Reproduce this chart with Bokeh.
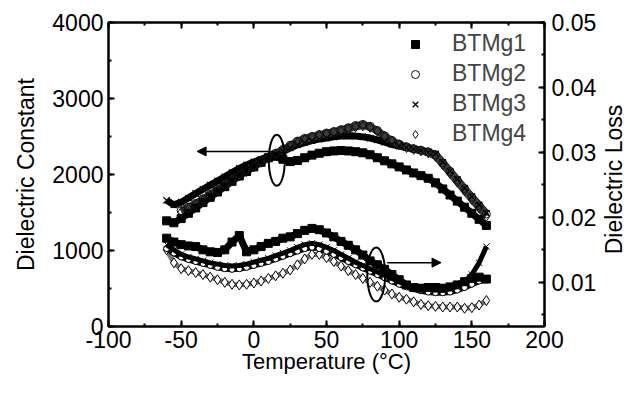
from bokeh.plotting import figure
from bokeh.layouts import row
from bokeh.models import (LinearAxis, Range1d, SingleIntervalTicker, NumeralTickFormatter,
                          Legend, LegendItem, Arrow, NormalHead, Label)
from bokeh.embed import file_html
from bokeh.resources import INLINE
import math

FONT = "Liberation Sans"

# ---------------- data ----------------
temp_a = [-60, -55, -50, -45, -40, -35, -30, -25, -20, -15, -10, -5, 0,
          5, 10, 15, 20, 25, 30, 35, 40, 45, 50, 55, 60, 65, 70, 75, 80,
          85, 90, 95, 100, 105, 110, 115, 120, 125, 130, 135, 140, 145, 150, 155, 160]
temp_b = temp_a[2:]

eps_btmg1 = [1390, 1365, 1420, 1490, 1560, 1630, 1700, 1770, 1840, 1910, 1980, 2040, 2100,
             2160, 2220, 2240, 2200, 2170, 2185, 2220, 2255, 2280, 2300, 2310, 2315, 2310,
             2300, 2285, 2260, 2220, 2180, 2140, 2100, 2060, 2020, 1985, 1950, 1890, 1810,
             1730, 1650, 1570, 1490, 1410, 1330]
eps_btmg3 = [1660, 1600, 1635, 1690, 1750, 1805, 1860, 1915, 1970, 2025, 2080, 2125, 2165,
             2200, 2235, 2265, 2300, 2350, 2390, 2420, 2445, 2465, 2480, 2495, 2505, 2510,
             2505, 2495, 2480, 2455, 2425, 2395, 2375, 2355, 2335, 2315, 2290, 2270, 2160,
             2045, 1935, 1820, 1710, 1600, 1490]
eps_btmg2 = [1525, 1570, 1620, 1680, 1740, 1805, 1870, 1935, 2000, 2060, 2120,
             2175, 2230, 2280, 2330, 2385, 2440, 2475, 2500, 2525, 2545, 2565, 2590, 2615,
             2645, 2660, 2635, 2580, 2510, 2450, 2400, 2365, 2340, 2320, 2300, 2260, 2150,
             2040, 1925, 1815, 1700, 1590, 1480]
eps_btmg4 = [1505, 1550, 1600, 1660, 1720, 1785, 1850, 1915, 1980, 2040, 2100,
             2160, 2215, 2265, 2315, 2370, 2420, 2460, 2490, 2515, 2535, 2555, 2575, 2600,
             2625, 2640, 2620, 2570, 2500, 2440, 2390, 2355, 2330, 2310, 2285, 2240, 2130,
             2015, 1900, 1785, 1670, 1560, 1450]

loss_btmg1 = [0.0168, 0.0162, 0.0158, 0.0156, 0.0155, 0.0150, 0.0147, 0.0146, 0.0150, 0.0162,
              0.0172, 0.0147, 0.0150, 0.0155, 0.0160, 0.0163, 0.0168, 0.0170, 0.0175, 0.0180,
              0.0183, 0.0181, 0.0176, 0.0170, 0.0163, 0.0157, 0.0150, 0.0142, 0.0133, 0.0127,
              0.0120, 0.0112, 0.0104, 0.0096, 0.0092, 0.0091, 0.0092, 0.0092, 0.0091, 0.0093,
              0.0096, 0.0101, 0.0106, 0.0108, 0.0105]
loss_btmg2 = [0.0152, 0.0145, 0.0139, 0.0135, 0.0132, 0.0129, 0.0126, 0.0123, 0.0121, 0.0120,
              0.0121, 0.0123, 0.0126, 0.0129, 0.0132, 0.0136, 0.0140, 0.0144, 0.0148, 0.0152,
              0.0154, 0.0152, 0.0148, 0.0143, 0.0138, 0.0132, 0.0127, 0.0122, 0.0117, 0.0112,
              0.0107, 0.0102, 0.0097, 0.0093, 0.0090, 0.0087, 0.0085, 0.0084, 0.0084, 0.0085,
              0.0088, 0.0092, 0.0097, 0.0102, 0.0104]
loss_btmg3 = [0.0158, 0.0150, 0.0143, 0.0139, 0.0136, 0.0133, 0.0130, 0.0128, 0.0126, 0.0125,
              0.0126, 0.0128, 0.0131, 0.0134, 0.0137, 0.0141, 0.0145, 0.0149, 0.0154, 0.0158,
              0.0160, 0.0158, 0.0154, 0.0149, 0.0143, 0.0137, 0.0131, 0.0126, 0.0121, 0.0116,
              0.0111, 0.0106, 0.0101, 0.0097, 0.0094, 0.0091, 0.0089, 0.0088, 0.0088, 0.0090,
              0.0094, 0.0101, 0.0112, 0.0130, 0.0155]
loss_btmg4 = [0.0150, 0.0130, 0.0121, 0.0118, 0.0115, 0.0112, 0.0108, 0.0104, 0.0100, 0.0097,
              0.0096, 0.0097, 0.0099, 0.0102, 0.0106, 0.0110, 0.0114, 0.0119, 0.0127, 0.0136,
              0.0143, 0.0143, 0.0138, 0.0132, 0.0125, 0.0118, 0.0112, 0.0106, 0.0100, 0.0094,
              0.0088, 0.0082, 0.0077, 0.0074, 0.0070, 0.0066, 0.0064, 0.0063, 0.0062, 0.0062,
              0.0062, 0.0060, 0.0061, 0.0065, 0.0072]

series_names = ["BTMg1", "BTMg2", "BTMg3", "BTMg4"]

# ---------------- main figure ----------------
p = figure(width=599, height=379, x_range=Range1d(-100, 200), y_range=Range1d(0, 4000),
           output_backend="svg", toolbar_location=None,
           min_border_left=108, min_border_right=53, min_border_top=22, min_border_bottom=53)
p.extra_y_ranges = {"loss": Range1d(0.0032, 0.05)}
p.xgrid.visible = False
p.ygrid.visible = False
p.outline_line_color = "black"
p.outline_line_width = 2
p.background_fill_color = "white"
p.border_fill_color = "white"


def style_axis(ax, interval, show_labels=True):
    ax.ticker = SingleIntervalTicker(interval=interval, num_minor_ticks=2)
    ax.axis_line_width = 2
    ax.axis_line_color = "black"
    ax.major_tick_in = 6
    ax.major_tick_out = 0
    ax.minor_tick_in = 3
    ax.minor_tick_out = 0
    ax.major_tick_line_width = 2
    ax.minor_tick_line_width = 2
    ax.major_label_text_font = FONT
    ax.major_label_text_font_size = "23px" if show_labels else "0px"
    ax.major_label_text_color = "black"
    ax.major_label_standoff = 5 if show_labels else 0
    ax.axis_label_text_font = FONT
    ax.axis_label_text_font_size = "23px"
    ax.axis_label_text_font_style = "normal"
    ax.axis_label_text_color = "black"


xa = p.xaxis[0]
style_axis(xa, 50)
xa.formatter = NumeralTickFormatter(format="0")
xa.axis_label = "Temperature (\u00b0C)"
xa.axis_label_text_font_size = "22px"
xa.axis_label_standoff = -2
xa.major_label_standoff = 4

ya = p.yaxis[0]
style_axis(ya, 1000)
ya.formatter = NumeralTickFormatter(format="0")
ya.axis_label = "Dielectric Constant"
ya.axis_label_standoff = 10

top = LinearAxis()
style_axis(top, 50, show_labels=False)
p.add_layout(top, "above")

ra = LinearAxis(y_range_name="loss")
style_axis(ra, 0.01)
ra.ticker = SingleIntervalTicker(interval=0.01, num_minor_ticks=2)
ra.formatter = NumeralTickFormatter(format="0.00")
ra.major_label_standoff = 7
p.add_layout(ra, "right")

# ---------------- dielectric constant ----------------
p.line(temp_a, eps_btmg1, line_color="black", line_width=7)
p.line(temp_a, eps_btmg3, line_color="black", line_width=7)
p.line(temp_b, eps_btmg2, line_color="#3c3c3c", line_width=7)
p.line(temp_b, eps_btmg4, line_color="#3c3c3c", line_width=7)

r1 = p.scatter(temp_a, eps_btmg1, marker="square", size=8, fill_color="black", line_color="black")
r2 = p.scatter(temp_b, eps_btmg2, marker="circle", size=8, fill_color=None, line_color="#111111")
r3 = p.scatter(temp_a, eps_btmg3, marker="x", size=9, line_color="black", line_width=1.3)
r4 = p.scatter(temp_b, eps_btmg4, marker="diamond", size=10, fill_color=None, line_color="#111111")

# ---------------- dielectric loss ----------------
p.line(temp_a, loss_btmg4, y_range_name="loss", line_color="#777777", line_width=5)
p.scatter(temp_a, loss_btmg4, y_range_name="loss", marker="diamond", size=10,
          fill_color="white", line_color="black")
p.line(temp_a, loss_btmg2, y_range_name="loss", line_color="black", line_width=6)
p.scatter(temp_a, loss_btmg2, y_range_name="loss", marker="circle", size=6,
          fill_color="white", line_color="black")
p.line(temp_a, loss_btmg3, y_range_name="loss", line_color="black", line_width=5)
p.scatter(temp_a, loss_btmg3, y_range_name="loss", marker="x", size=9, line_color="black")
p.line(temp_a, loss_btmg1, y_range_name="loss", line_color="black", line_width=7)
p.scatter(temp_a, loss_btmg1, y_range_name="loss", marker="square", size=8,
          fill_color="black", line_color="black")

# ---------------- annotations ----------------
p.ellipse(x=[15.8], y=[2188], width=[11], height=[673], fill_color=None,
          line_color="black", line_width=2)
p.ellipse(x=[84.2], y=[0.01121], width=[12.3], height=[0.00833], fill_color=None,
          line_color="black", line_width=2, y_range_name="loss")
p.add_layout(Arrow(end=NormalHead(size=9, fill_color="black", line_color="black"),
                   x_start=13, y_start=2304, x_end=-39, y_end=2304,
                   line_color="black", line_width=1.5))
p.add_layout(Arrow(end=NormalHead(size=9, fill_color="black", line_color="black"),
                   x_start=91.8, y_start=0.01303, x_end=128.8, y_end=0.01303,
                   line_color="black", line_width=1.5, y_range_name="loss"))

# ---------------- legend ----------------
legend = Legend(items=[LegendItem(label=n, renderers=[r]) for n, r in
                       zip(series_names, [r1, r2, r3, r4])],
                location="top_right", border_line_color=None, background_fill_alpha=0,
                label_text_font=FONT, label_text_font_size="23px",
                glyph_width=20, glyph_height=24, label_height=24, label_width=84, spacing=3,
                label_standoff=27, padding=0, margin=8)
p.add_layout(legend)

# ---------------- right-axis title strip (reads bottom to top) ----------------
strip = figure(width=26, height=379, x_range=Range1d(0, 26), y_range=Range1d(0, 379),
               output_backend="svg", toolbar_location=None,
               x_axis_location=None, y_axis_location=None, min_border=0)
strip.xgrid.visible = False
strip.ygrid.visible = False
strip.outline_line_color = None
strip.background_fill_color = "white"
strip.border_fill_color = "white"
strip.add_layout(Label(x=14, y=147, x_units="screen", y_units="screen", text="Dielectric Loss",
                       angle=math.pi / 2, text_align="center", text_baseline="middle",
                       text_font=FONT, text_font_size="23px", text_color="black"))

layout = row(p, strip, spacing=0)
open("out.html", "w").write(file_html(layout, INLINE))
